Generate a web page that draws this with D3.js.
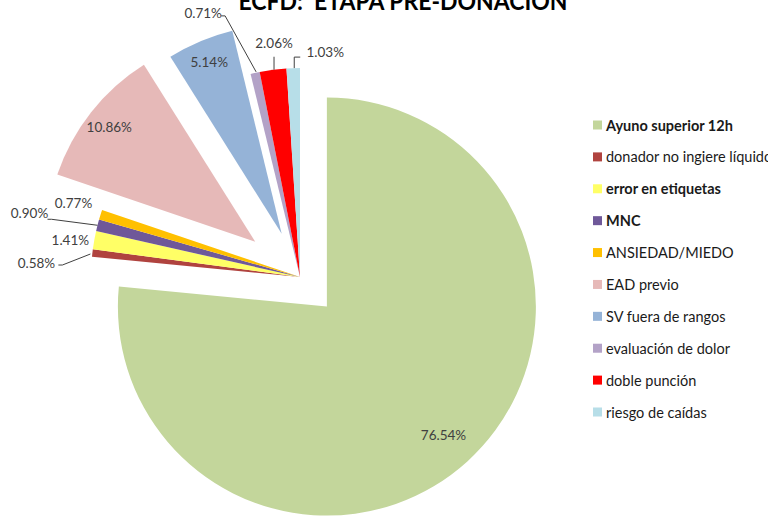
<!DOCTYPE html>
<html>
<head>
<meta charset="utf-8">
<script src="https://cdn.jsdelivr.net/npm/d3@7"></script>
<style>
  html, body { margin: 0; padding: 0; background: #fff; }
  svg { display: block; }
</style>
</head>
<body>
<svg id="chart" width="768" height="519"></svg>
<script>
// ---- data ----
const categories = [
  "Ayuno superior 12h",
  "donador no ingiere líquidos",
  "error en etiquetas",
  "MNC",
  "ANSIEDAD/MIEDO",
  "EAD previo",
  "SV fuera de rangos",
  "evaluación de dolor",
  "doble punción",
  "riesgo de caídas"
];
const values = [76.54, 0.58, 1.41, 0.90, 0.77, 10.86, 5.14, 0.71, 2.06, 1.03];
const title = "ECFD:  ETAPA PRE-DONACIÓN";

// ---- styling ----
const colors = ["#c3d69b", "#b0433f", "#ffff66", "#6f5899", "#ffc000",
                "#e6b9b8", "#95b3d7", "#b3a2c7", "#ff0000", "#b7dee8"];
const boldLegend = [true, false, true, true, false, false, false, false, false, false];
// pull-out distance of each slice along its bisector (px)
const explode = [40, 0, 0, 0, 0, 57, 47, 0, 0, 0];
// label placement: "in" = inside at fraction of radius, otherwise offset from
// the slice's outer mid-point with an optional leader polyline
const labelCfg = [
  {mode: "in", f: 0.83},
  {mode: "out", dx: -56, dy: 10, leader: [[-2, 1], [-30, 12], [-34, 12]]},
  {mode: "out", dx: -24, dy: 0},
  {mode: "out", dx: -68, dy: -12, leader: [[0, 0], [-46, -6], [-50, -6]]},
  {mode: "out", dx: -27, dy: -12},
  {mode: "in", f: 0.89},
  {mode: "in", f: 0.89},
  {mode: "out", dx: -52, dy: -60, leader: [[1, -1], [-30, -57], [-34, -57]]},
  {mode: "out", dx: 1, dy: -27, leader: [[1, 0], [1, -13]]},
  {mode: "out", dx: 32, dy: -16, leader: [[1, 0], [1, -11], [7, -11]]}
];

const svg = d3.select("#chart");
const cx = 300, cy = 277, R = 209;
const font = "Lato, 'Open Sans', sans-serif";

const pie = d3.pie().sort(null).value(d => d).startAngle(0).endAngle(2 * Math.PI);
const arcs = pie(values);
const arc = d3.arc().innerRadius(0).outerRadius(R);

const g = svg.append("g").attr("transform", `translate(${cx},${cy})`);

function dirOf(a) {
  const m = (a.startAngle + a.endAngle) / 2;
  return [Math.sin(m), -Math.cos(m)];
}

// slices
g.selectAll("path.slice")
  .data(arcs)
  .join("path")
  .attr("class", "slice")
  .attr("fill", (d, i) => colors[i])
  .attr("transform", (d, i) => {
    const [ux, uy] = dirOf(d);
    return `translate(${ux * explode[i]},${uy * explode[i]})`;
  })
  .attr("d", arc);

// percentage labels
const fmt = v => v.toFixed(2) + "%";
arcs.forEach((d, i) => {
  const cfg = labelCfg[i];
  const [ux, uy] = dirOf(d);
  const ox = ux * explode[i], oy = uy * explode[i];
  let lx, ly;
  if (cfg.mode === "in") {
    lx = ox + ux * R * cfg.f;
    ly = oy + uy * R * cfg.f;
  } else {
    const px = ox + ux * R, py = oy + uy * R;
    lx = px + cfg.dx;
    ly = py + cfg.dy;
    if (cfg.leader) {
      const pts = cfg.leader.map(p => [px + p[0], py + p[1]]);
      g.append("path")
        .attr("d", d3.line()(pts))
        .attr("fill", "none")
        .attr("stroke", "#404040")
        .attr("stroke-width", 1);
    }
  }
  g.append("text")
    .attr("x", lx)
    .attr("y", ly)
    .attr("text-anchor", "middle")
    .attr("dominant-baseline", "central")
    .attr("font-family", font)
    .attr("font-size", 13.5)
    .attr("fill", "#404040")
    .text(fmt(values[i]));
});

// title (partly above the top edge)
svg.append("text")
  .attr("x", 403)
  .attr("y", 10)
  .attr("text-anchor", "middle")
  .attr("font-family", font)
  .attr("font-weight", "bold")
  .attr("font-size", 24)
  .attr("textLength", 329)
  .attr("lengthAdjust", "spacingAndGlyphs")
  .style("white-space", "pre")
  .attr("fill", "#000")
  .text(title);

// legend
const ly = d3.scalePoint().domain(categories).range([125, 412]);
const leg = svg.append("g");
categories.forEach((c, i) => {
  const y = ly(c);
  leg.append("rect")
    .attr("x", 593).attr("y", y - 4.5)
    .attr("width", 9).attr("height", 9)
    .attr("fill", colors[i]);
  leg.append("text")
    .attr("x", 606).attr("y", y)
    .attr("dominant-baseline", "central")
    .attr("font-family", font)
    .attr("font-size", 14.5)
    .attr("font-weight", boldLegend[i] ? "bold" : "normal")
    .attr("fill", "#1a1a1a")
    .text(c);
});
</script>
</body>
</html>
